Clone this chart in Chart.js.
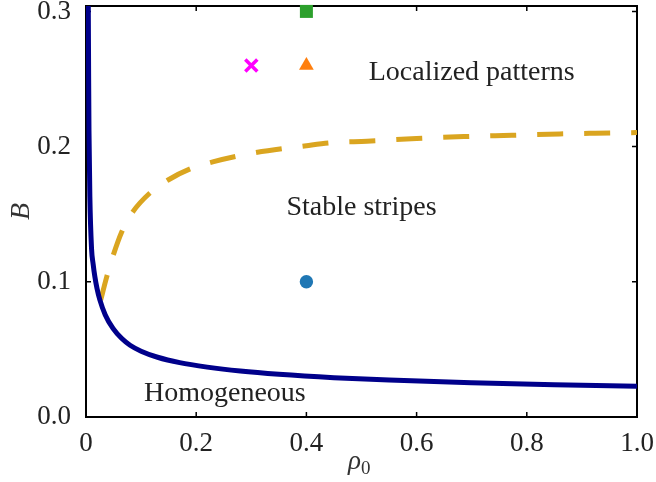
<!DOCTYPE html>
<html>
<head>
<meta charset="utf-8">
<script src="https://cdn.jsdelivr.net/npm/chart.js@4.4.1/dist/chart.umd.min.js"></script>
<style>
  body { margin: 0; background: #fff; }
  #wrap { width: 656px; height: 482px; }
</style>
</head>
<body>
<div id="wrap"><canvas id="phaseChart" width="656" height="482"></canvas></div>
<script>
// boundary of homogeneous state (solid navy)
const homRho = [0.0038, 0.0042, 0.0048, 0.0054, 0.007, 0.010, 0.013, 0.016, 0.020, 0.025, 0.035, 0.049, 0.065, 0.08, 0.10, 0.13, 0.17, 0.22, 0.28, 0.35, 0.45, 0.55, 0.70, 0.85, 1.0];
const homB   = [0.33, 0.30, 0.25, 0.212, 0.163, 0.125, 0.113, 0.104, 0.095, 0.0868, 0.0755, 0.0655, 0.0580, 0.0531, 0.0487, 0.0442, 0.0402, 0.0369, 0.0340, 0.0316, 0.0291, 0.0273, 0.0254, 0.0239, 0.0227];

// stripes / localized boundary (dashed gold)
const stripeRho = [0.0266, 0.0376, 0.0485, 0.065, 0.0853, 0.116, 0.149, 0.189, 0.230, 0.30, 0.40, 0.448, 0.51, 0.60, 0.686, 0.773, 0.86, 0.924, 1.0];
const stripeB   = [0.0864, 0.1037, 0.1185, 0.137, 0.1519, 0.1657, 0.1753, 0.1835, 0.1887, 0.195, 0.2007, 0.203, 0.204, 0.206, 0.2074, 0.2084, 0.2094, 0.2099, 0.2104];

// sample points
const pointRho   = [0.4, 0.4, 0.4, 0.3];
const pointB     = [0.1, 0.3, 0.26, 0.26];
const pointStyle = ['circle', 'rect', 'triangle', 'crossRot'];
const pointColor = ['#1f77b4', '#2ca02c', '#ff7f0e', '#ff00ff'];

const xTicks = [0, 0.2, 0.4, 0.6, 0.8, 1.0];
const xTickLabels = ['0', '0.2', '0.4', '0.6', '0.8', '1.0'];
const yTicks = [0, 0.1, 0.2, 0.3];
const yTickLabels = ['0.0', '0.1', '0.2', '0.3'];

const regionLabels = ['Localized patterns', 'Stable stripes', 'Homogeneous'];
const regionRho = [0.70, 0.50, 0.252];
const regionB = [0.255, 0.155, 0.0175];

const serif = '"Liberation Serif", "DejaVu Serif", serif';

const toXY = (xs, ys) => xs.map((x, i) => ({ x: x, y: ys[i] }));

const noPad = s => { s.paddingTop = 0; s.paddingBottom = 0; s.paddingLeft = 0; s.paddingRight = 0; };

const pointSets = pointRho.map((r, i) => ({
  data: [{ x: r, y: pointB[i] }],
  pointStyle: pointStyle[i],
  backgroundColor: pointColor[i],
  borderColor: pointColor[i],
  pointRadius: [6.7, 9.2, 8.5, 8.5][i],
  borderWidth: pointStyle[i] === 'crossRot' ? 3.5 : 0,
  clip: false,
  order: 0
}));

const frame = {
  id: 'frame',
  beforeDatasetsDraw(chart) {
    const { ctx, chartArea: a, scales: { x, y } } = chart;
    ctx.save();
    ctx.strokeStyle = '#000';
    ctx.lineWidth = 1.5;
    ctx.beginPath();
    xTicks.forEach(v => {
      const px = x.getPixelForValue(v);
      ctx.moveTo(px, a.bottom); ctx.lineTo(px, a.bottom - 5);
      ctx.moveTo(px, a.top); ctx.lineTo(px, a.top + 5);
    });
    yTicks.forEach(v => {
      const py = y.getPixelForValue(v);
      ctx.moveTo(a.left, py); ctx.lineTo(a.left + 5, py);
      ctx.moveTo(a.right, py); ctx.lineTo(a.right - 5, py);
    });
    ctx.stroke();
    ctx.lineWidth = 2;
    ctx.strokeRect(a.left, a.top, a.right - a.left, a.bottom - a.top);
    ctx.restore();
  },
  afterDatasetsDraw(chart) {
    const { ctx, chartArea: a, scales: { x, y } } = chart;
    ctx.save();
    ctx.fillStyle = '#222';
    ctx.font = '28px ' + serif;
    ctx.textAlign = 'center';
    ctx.textBaseline = 'middle';
    regionLabels.forEach((t, i) => {
      ctx.fillText(t, x.getPixelForValue(regionRho[i]), y.getPixelForValue(regionB[i]));
    });

    // axis titles
    ctx.fillStyle = '#333';
    ctx.font = 'italic 27px ' + serif;
    ctx.textAlign = 'right';
    ctx.fillText('ρ', 361, 462);
    ctx.font = '19px ' + serif;
    ctx.textAlign = 'left';
    ctx.fillText('0', 361, 469);
    ctx.translate(22, (a.top + a.bottom) / 2);
    ctx.rotate(-Math.PI / 2);
    ctx.font = 'italic 28px ' + serif;
    ctx.textAlign = 'center';
    ctx.fillText('B', 0, 0);
    ctx.restore();
  }
};

new Chart(document.getElementById('phaseChart'), {
  type: 'scatter',
  data: {
    datasets: [
      {
        data: toXY(homRho, homB),
        showLine: true,
        borderColor: '#00008b',
        borderWidth: 5,
        pointRadius: 0,
        cubicInterpolationMode: 'monotone',
        order: 1
      },
      {
        data: toXY(stripeRho, stripeB),
        showLine: true,
        borderColor: '#daa520',
        borderWidth: 5,
        borderDash: [26, 21],
        pointRadius: 0,
        cubicInterpolationMode: 'monotone',
        order: 2
      },
      ...pointSets
    ]
  },
  options: {
    responsive: false,
    animation: false,
    layout: { autoPadding: false, padding: { top: 6, right: 19, left: 0, bottom: 0 } },
    plugins: { legend: { display: false }, tooltip: { enabled: false } },
    scales: {
      x: {
        type: 'linear',
        min: 0,
        max: 1,
        grid: { display: false },
        border: { display: false },
        afterBuildTicks: s => { s.ticks = xTicks.map(v => ({ value: v })); },
        afterFit: s => { s.height = 65; noPad(s); },
        ticks: {
          padding: 3,
          color: '#222',
          font: { family: serif, size: 27 },
          maxRotation: 0,
          callback: v => xTickLabels[xTicks.indexOf(v)]
        }
      },
      y: {
        type: 'linear',
        min: 0,
        max: 0.304,
        grid: { display: false },
        border: { display: false },
        afterBuildTicks: s => { s.ticks = yTicks.map(v => ({ value: v })); },
        afterFit: s => { s.width = 86; noPad(s); },
        ticks: {
          padding: 7,
          color: '#222',
          font: { family: serif, size: 27 },
          callback: v => yTickLabels[yTicks.indexOf(v)]
        }
      }
    }
  },
  plugins: [frame]
});
</script>
</body>
</html>
